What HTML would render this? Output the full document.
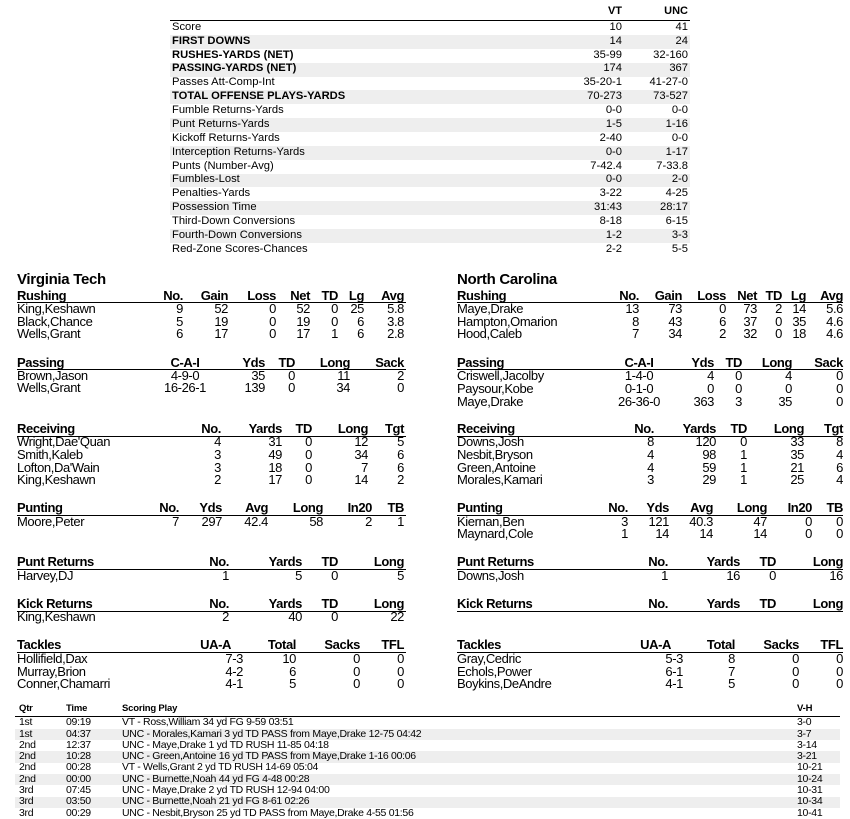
<!DOCTYPE html>
<html><head><meta charset="utf-8">
<style>
body{margin:0;width:850px;height:819px;background:#fff;position:relative;overflow:hidden;font-family:"Liberation Sans",Arial,sans-serif;color:#000}
.t{position:absolute;white-space:nowrap;line-height:1}
.l{position:absolute;height:1px;background:#000}
.g{position:absolute;background:#eeeeee}
</style></head><body>
<script>
function T(x,y,s,al,b,fs,ls){var d=document.createElement('div');d.className='t';fs=fs||13;d.style.fontSize=fs+'px';d.style.top=(y-fs*0.55)+'px';if(ls!==undefined)d.style.letterSpacing=ls+'px';else d.style.letterSpacing='-0.4px';
if(al==='r'){d.style.right=(850-x)+'px';}else if(al==='c'){d.style.left=(x-100)+'px';d.style.width='200px';d.style.textAlign='center';}else d.style.left=x+'px';
if(b)d.style.fontWeight='bold';d.textContent=s;document.body.appendChild(d);}
function L(x1,x2,y){var d=document.createElement('div');d.className='l';d.style.left=x1+'px';d.style.width=(x2-x1)+'px';d.style.top=y+'px';document.body.appendChild(d);}
function G(x1,x2,y,h){var d=document.createElement('div');d.className='g';d.style.left=x1+'px';d.style.width=(x2-x1)+'px';d.style.top=y+'px';d.style.height=h+'px';document.body.appendChild(d);}
var tb=[["Score","10","41",0],["FIRST DOWNS","14","24",1],["RUSHES-YARDS (NET)","35-99","32-160",1],["PASSING-YARDS (NET)","174","367",1],["Passes Att-Comp-Int","35-20-1","41-27-0",0],["TOTAL OFFENSE PLAYS-YARDS","70-273","73-527",1],["Fumble Returns-Yards","0-0","0-0",0],["Punt Returns-Yards","1-5","1-16",0],["Kickoff Returns-Yards","2-40","0-0",0],["Interception Returns-Yards","0-0","1-17",0],["Punts (Number-Avg)","7-42.4","7-33.8",0],["Fumbles-Lost","0-0","2-0",0],["Penalties-Yards","3-22","4-25",0],["Possession Time","31:43","28:17",0],["Third-Down Conversions","8-18","6-15",0],["Fourth-Down Conversions","1-2","3-3",0],["Red-Zone Scores-Chances","2-2","5-5",0]];
for(var i=0;i<tb.length;i++){var y=28+i*13.87;if(i%2==1)G(170,690,y-7,13.9);}
T(622,12,"VT",'r',1,11,0);T(688,12,"UNC",'r',1,11,0);L(170,690,20);
for(var i=0;i<tb.length;i++){var y=28+i*13.87,r=tb[i];T(172,y,r[0],'l',r[3],11.2,0);T(622,y,r[1],'r',0,11.2,0);T(688,y,r[2],'r',0,11.2,0);}
function S(ox,y0,title,cols,rows,lineY,rowYs){T(ox,y0,title,'l',1);cols.forEach(function(c){T(c[1],y0,c[0],c[2]||'r',1);});L(ox,ox+389-(ox>400?3:0),lineY);
rows.forEach(function(r,j){T(ox,rowYs[j],r[0],'l',0);for(var k=1;k<r.length;k++){var c=cols[k-1];T(c[3]||c[1],rowYs[j],r[k],c[2]||'r',0);}});}
T(17,280,"Virginia Tech",'l',1,15,-0.3);T(457,280,"North Carolina",'l',1,15,-0.3);
S(17,296,"Rushing",[["No.",183],["Gain",228],["Loss",276],["Net",310],["TD",338],["Lg",364],["Avg",404]],
[["King,Keshawn","9","52","0","52","0","25","5.8"],["Black,Chance","5","19","0","19","0","6","3.8"],["Wells,Grant","6","17","0","17","1","6","2.8"]],302,[309,322,334]);
S(17,363,"Passing",[["C-A-I",185,'c'],["Yds",265],["TD",295],["Long",350],["Sack",404]],
[["Brown,Jason","4-9-0","35","0","11","2"],["Wells,Grant","16-26-1","139","0","34","0"]],369,[376,388]);
S(17,429,"Receiving",[["No.",221],["Yards",282],["TD",312],["Long",368],["Tgt",404]],
[["Wright,Dae'Quan","4","31","0","12","5"],["Smith,Kaleb","3","49","0","34","6"],["Lofton,Da'Wain","3","18","0","7","6"],["King,Keshawn","2","17","0","14","2"]],436,[442,455,468,480]);
S(17,508,"Punting",[["No.",179],["Yds",222],["Avg",268],["Long",323],["In20",372],["TB",404]],
[["Moore,Peter","7","297","42.4","58","2","1"]],515,[522]);
S(17,562,"Punt Returns",[["No.",229],["Yards",302],["TD",338],["Long",404]],[["Harvey,DJ","1","5","0","5"]],569,[576]);
S(17,604,"Kick Returns",[["No.",229],["Yards",302],["TD",338],["Long",404]],[["King,Keshawn","2","40","0","22"]],611,[617]);
S(17,645,"Tackles",[["UA-A",231,'r',243],["Total",296],["Sacks",360],["TFL",404]],
[["Hollifield,Dax","7-3","10","0","0"],["Murray,Brion","4-2","6","0","0"],["Conner,Chamarri","4-1","5","0","0"]],652,[659,672,684]);
S(457,296,"Rushing",[["No.",639],["Gain",682],["Loss",726],["Net",757],["TD",782],["Lg",806],["Avg",843]],
[["Maye,Drake","13","73","0","73","2","14","5.6"],["Hampton,Omarion","8","43","6","37","0","35","4.6"],["Hood,Caleb","7","34","2","32","0","18","4.6"]],302,[309,322,334]);
S(457,363,"Passing",[["C-A-I",639,'c'],["Yds",714],["TD",742],["Long",792],["Sack",843]],
[["Criswell,Jacolby","1-4-0","4","0","4","0"],["Paysour,Kobe","0-1-0","0","0","0","0"],["Maye,Drake","26-36-0","363","3","35","0"]],369,[376,389,402]);
S(457,429,"Receiving",[["No.",654],["Yards",716],["TD",747],["Long",804],["Tgt",843]],
[["Downs,Josh","8","120","0","33","8"],["Nesbit,Bryson","4","98","1","35","4"],["Green,Antoine","4","59","1","21","6"],["Morales,Kamari","3","29","1","25","4"]],436,[442,455,468,480]);
S(457,508,"Punting",[["No.",628],["Yds",669],["Avg",713],["Long",767],["In20",812],["TB",843]],
[["Kiernan,Ben","3","121","40.3","47","0","0"],["Maynard,Cole","1","14","14","14","0","0"]],515,[522,534]);
S(457,562,"Punt Returns",[["No.",668],["Yards",740],["TD",776],["Long",843]],[["Downs,Josh","1","16","0","16"]],569,[576]);
S(457,604,"Kick Returns",[["No.",668],["Yards",740],["TD",776],["Long",843]],[],611,[]);
S(457,645,"Tackles",[["UA-A",671,'r',683],["Total",735],["Sacks",799],["TFL",843]],
[["Gray,Cedric","5-3","8","0","0"],["Echols,Power","6-1","7","0","0"],["Boykins,DeAndre","4-1","5","0","0"]],652,[659,672,684]);
var sc=[["1st","09:19","VT - Ross,William 34 yd FG 9-59 03:51","3-0"],["1st","04:37","UNC - Morales,Kamari 3 yd TD PASS from Maye,Drake 12-75 04:42","3-7"],["2nd","12:37","UNC - Maye,Drake 1 yd TD RUSH 11-85 04:18","3-14"],["2nd","10:28","UNC - Green,Antoine 16 yd TD PASS from Maye,Drake 1-16 00:06","3-21"],["2nd","00:28","VT - Wells,Grant 2 yd TD RUSH 14-69 05:04","10-21"],["2nd","00:00","UNC - Burnette,Noah 44 yd FG 4-48 00:28","10-24"],["3rd","07:45","UNC - Maye,Drake 2 yd TD RUSH 12-94 04:00","10-31"],["3rd","03:50","UNC - Burnette,Noah 21 yd FG 8-61 02:26","10-34"],["3rd","00:29","UNC - Nesbit,Bryson 25 yd TD PASS from Maye,Drake 4-55 01:56","10-41"]];
for(var i=0;i<sc.length;i++){if(i%2==1)G(15,840,723+i*11.3-5.5,11.3);}
T(19,709,"Qtr",'l',1,9.5,-0.2);T(66,709,"Time",'l',1,9.5,-0.2);T(122,709,"Scoring Play",'l',1,9.5,-0.2);T(797,709,"V-H",'l',1,9.5,-0.2);L(15,840,716);
for(var i=0;i<sc.length;i++){var y=723+i*11.3,r=sc[i];T(19,y,r[0],'l',0,10.5,-0.3);T(66,y,r[1],'l',0,10.5,-0.3);T(122,y,r[2],'l',0,10.5,-0.3);T(797,y,r[3],'l',0,10.5,-0.3);}
</script>
</body></html>
